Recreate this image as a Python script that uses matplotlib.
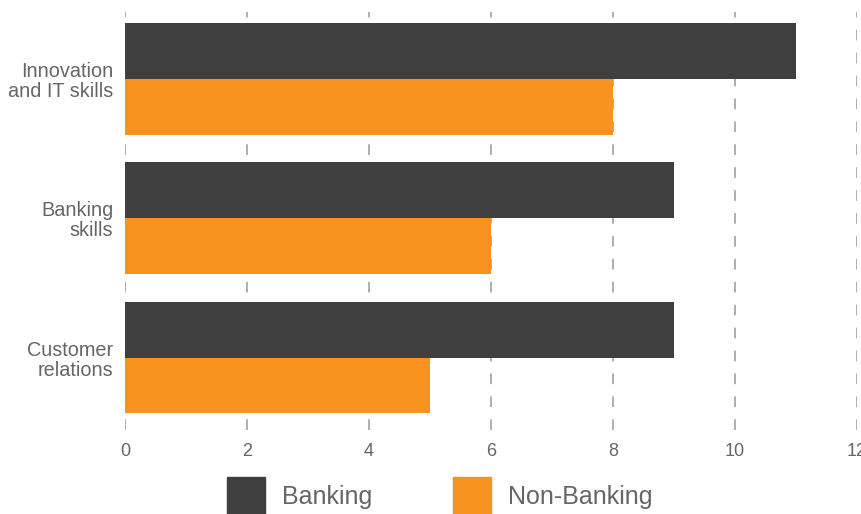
import matplotlib.pyplot as plt
from matplotlib.patches import Patch
import numpy as np

# Chart data
categories = ["Innovation\nand IT skills", "Banking\nskills", "Customer\nrelations"]
banking = [11, 9, 9]
non_banking = [8, 6, 5]
x_ticks = [0, 2, 4, 6, 8, 10, 12]

dark = "#3f3f3f"
orange = "#f7931e"
grey_text = "#666666"

plt.rcParams['font.family'] = ['Liberation Sans', 'DejaVu Sans']

fig = plt.figure(figsize=(8.61, 5.14), dpi=100)
ax = fig.add_axes([125 / 861, 1 - 430 / 514, 732 / 861, 418 / 514])

y = np.arange(len(categories))
bar_h = 0.4
ax.barh(y - bar_h / 2, banking, height=bar_h, color=dark, zorder=2)
ax.barh(y + bar_h / 2, non_banking, height=bar_h, color=orange, zorder=2)

ax.set_xlim(0, 12)
ax.set_ylim(2.52, -0.48)
ax.set_xticks(x_ticks)
ax.set_xticklabels([str(t) for t in x_ticks], color=grey_text, fontsize=13)
ax.set_yticks(y)
ax.set_yticklabels(categories, color=grey_text, fontsize=14.3, linespacing=1.07)
ax.tick_params(axis='both', length=0)
ax.tick_params(axis='x', pad=9.5)
ax.tick_params(axis='y', pad=8.5)

# dashed vertical gridlines behind the bars
ax.grid(axis='x', color="#999999", linestyle=(0, (7, 8)), linewidth=1.1, zorder=0)
ax.set_axisbelow(True)
for s in ax.spines.values():
    s.set_visible(False)

handles = [Patch(color=dark, label="Banking"), Patch(color=orange, label="Non-Banking")]
leg = fig.legend(handles=handles, loc='center', bbox_to_anchor=(0.511, 1 - 496 / 514), ncol=2,
                 frameon=False, fontsize=18, handlelength=1.52, handleheight=1.94,
                 handletextpad=0.68, columnspacing=3.24, borderpad=0)
for t in leg.get_texts():
    t.set_color(grey_text)

fig.savefig("out.png", dpi=100)
